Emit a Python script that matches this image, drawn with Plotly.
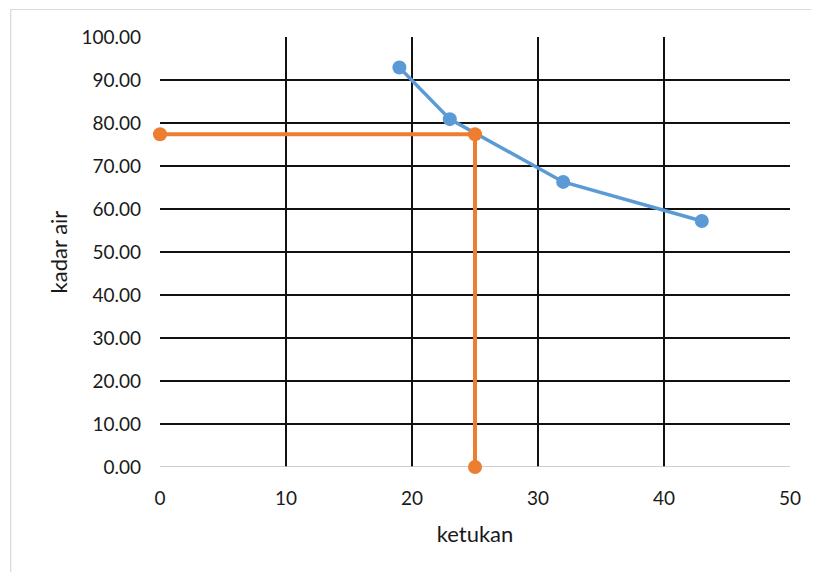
import plotly.graph_objects as go

ketukan = [19, 23, 32, 43]
kadar_air = [92.9, 80.9, 66.3, 57.2]

bantu_x = [0, 25, 25]
bantu_y = [77.4, 77.4, 0]

x_ticks = [0, 10, 20, 30, 40, 50]
y_ticks = [0, 10, 20, 30, 40, 50, 60, 70, 80, 90, 100]

fig = go.Figure()
fig.add_trace(go.Scatter(x=ketukan, y=kadar_air, mode="lines+markers",
                         line=dict(color="#5B9BD5", width=3.5),
                         marker=dict(color="#5B9BD5", size=14), showlegend=False,
                         cliponaxis=False))
fig.add_trace(go.Scatter(x=bantu_x, y=bantu_y, mode="lines+markers",
                         line=dict(color="#ED7D31", width=4),
                         marker=dict(color="#ED7D31", size=14), showlegend=False,
                         cliponaxis=False))

fig.update_layout(
    width=811, height=564,
    margin=dict(l=152, r=29, t=29, b=105),
    paper_bgcolor="white", plot_bgcolor="white",
    font=dict(family="Lato, Open Sans, sans-serif", size=19, color="#1a1a1a"),
    xaxis=dict(range=[0, 50], tickvals=x_ticks, ticktext=[str(v) for v in x_ticks],
               tickfont=dict(size=19),
               showgrid=True, gridcolor="#111111", gridwidth=1.6,
               zeroline=False, showline=False, ticks="", ticklabelstandoff=18,
               title=dict(text="ketukan", font=dict(size=22), standoff=18)),
    yaxis=dict(range=[0, 100], tickvals=y_ticks, ticktext=[f"{v:.2f}" for v in y_ticks],
               tickfont=dict(size=19),
               showgrid=True, gridcolor="#111111", gridwidth=1.6,
               zeroline=False, showline=False, ticks="", ticklabelstandoff=18,
               title=dict(text="kadar air", font=dict(size=22), standoff=7)),
    shapes=[
        dict(type="line", xref="x", yref="y", x0=0, x1=50, y0=0, y1=0,
             line=dict(color="#BFBFBF", width=1.6), layer="between"),
        dict(type="rect", xref="paper", yref="paper", x0=-0.237, x1=1.08, y0=-0.28, y1=1.064,
             line=dict(color="#D9D9D9", width=1.2)),
    ],
)
fig.write_html("out.html")
